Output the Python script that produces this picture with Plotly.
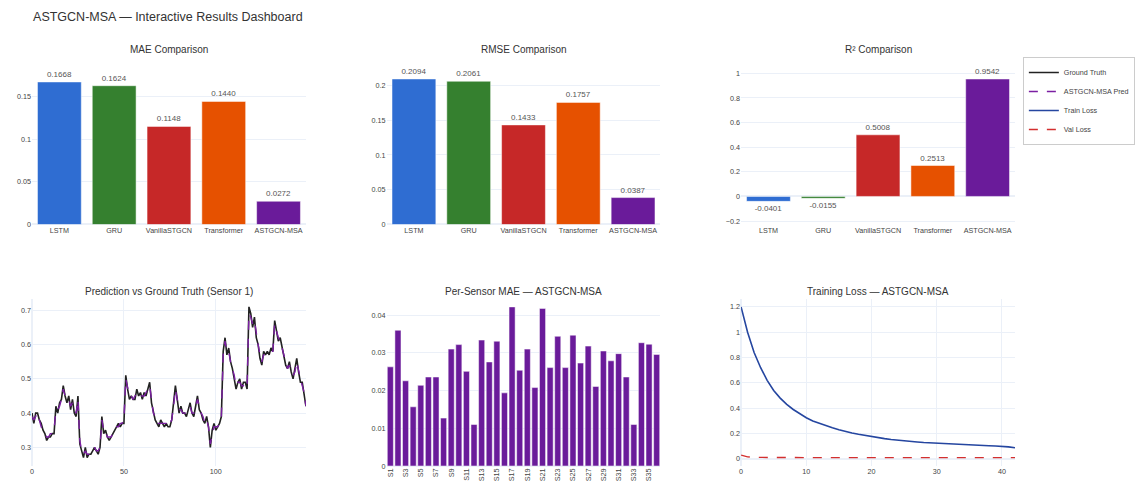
import plotly.graph_objects as go
from plotly.subplots import make_subplots

# ---- model comparison metrics ----
models = ["LSTM", "GRU", "VanillaSTGCN", "Transformer", "ASTGCN-MSA"]
mae = [0.1668, 0.1624, 0.1148, 0.1440, 0.0272]
rmse = [0.2094, 0.2061, 0.1433, 0.1757, 0.0387]
r2 = [-0.0401, -0.0155, 0.5008, 0.2513, 0.9542]
model_colors = ["#2f6dd2", "#35802f", "#c62828", "#e65100", "#6a1b9a"]

# ---- sensor 1 time series ----
ground_truth = [
    0.40, 0.37, 0.40, 0.40, 0.38, 0.37, 0.35, 0.34, 0.32, 0.33,
    0.33, 0.34, 0.34, 0.42, 0.40, 0.43, 0.44, 0.48, 0.45, 0.43,
    0.45, 0.41, 0.44, 0.40, 0.39, 0.45, 0.31, 0.29, 0.27, 0.30,
    0.27, 0.28, 0.28, 0.29, 0.30, 0.29, 0.28, 0.30, 0.39, 0.34,
    0.35, 0.33, 0.32, 0.33, 0.34, 0.35, 0.36, 0.37, 0.36, 0.37,
    0.37, 0.51, 0.47, 0.44, 0.45, 0.44, 0.44, 0.47, 0.45, 0.46,
    0.44, 0.46, 0.45, 0.47, 0.49, 0.43, 0.40, 0.38, 0.37, 0.36,
    0.38, 0.37, 0.36, 0.37, 0.36, 0.36, 0.38, 0.43, 0.48, 0.44,
    0.40, 0.42, 0.40, 0.40, 0.39, 0.41, 0.43, 0.40, 0.39, 0.42,
    0.45, 0.41, 0.40, 0.38, 0.37, 0.39, 0.36, 0.30, 0.35, 0.37,
    0.35, 0.36, 0.37, 0.39, 0.58, 0.62, 0.57, 0.59, 0.55, 0.53,
    0.50, 0.47, 0.49, 0.50, 0.47, 0.49, 0.49, 0.47, 0.71, 0.69,
    0.65, 0.68, 0.62, 0.60, 0.56, 0.54, 0.58, 0.57, 0.58, 0.57,
    0.59, 0.58, 0.67, 0.64, 0.61, 0.62, 0.59, 0.56, 0.54, 0.53,
    0.55, 0.52, 0.50, 0.53, 0.56, 0.52, 0.49, 0.49, 0.45, 0.42,
]
prediction = [
    0.39, 0.38, 0.39, 0.40, 0.38, 0.36, 0.35, 0.34, 0.33, 0.33,
    0.34, 0.34, 0.35, 0.41, 0.41, 0.42, 0.44, 0.47, 0.45, 0.44,
    0.44, 0.42, 0.43, 0.41, 0.40, 0.44, 0.32, 0.29, 0.28, 0.29,
    0.28, 0.28, 0.29, 0.29, 0.30, 0.29, 0.29, 0.30, 0.38, 0.35,
    0.35, 0.33, 0.33, 0.33, 0.34, 0.35, 0.36, 0.36, 0.37, 0.37,
    0.38, 0.50, 0.47, 0.45, 0.45, 0.44, 0.45, 0.46, 0.45, 0.45,
    0.45, 0.45, 0.46, 0.47, 0.48, 0.44, 0.40, 0.39, 0.37, 0.37,
    0.37, 0.37, 0.37, 0.37, 0.36, 0.37, 0.38, 0.42, 0.47, 0.44,
    0.41, 0.41, 0.40, 0.40, 0.40, 0.41, 0.42, 0.40, 0.40, 0.42,
    0.44, 0.42, 0.40, 0.39, 0.37, 0.38, 0.36, 0.31, 0.34, 0.36,
    0.36, 0.36, 0.37, 0.39, 0.57, 0.61, 0.58, 0.58, 0.55, 0.53,
    0.51, 0.48, 0.49, 0.49, 0.48, 0.48, 0.49, 0.48, 0.69, 0.68,
    0.66, 0.67, 0.63, 0.60, 0.57, 0.55, 0.57, 0.57, 0.57, 0.57,
    0.58, 0.58, 0.66, 0.64, 0.62, 0.61, 0.59, 0.57, 0.55, 0.53,
    0.54, 0.52, 0.51, 0.52, 0.55, 0.52, 0.50, 0.48, 0.46, 0.42,
]

# ---- per-sensor MAE of ASTGCN-MSA ----
sensors = ["S%d" % i for i in range(1, 37)]
sensor_mae = [
    0.0263, 0.0360, 0.0226, 0.0157, 0.0214, 0.0236, 0.0236, 0.0127, 0.0310,
    0.0322, 0.0251, 0.0110, 0.0334, 0.0276, 0.0331, 0.0194, 0.0422, 0.0254,
    0.0310, 0.0208, 0.0418, 0.0261, 0.0344, 0.0261, 0.0347, 0.0273, 0.0318,
    0.0211, 0.0305, 0.0279, 0.0298, 0.0236, 0.0110, 0.0327, 0.0323, 0.0296,
]

# ---- training history ----
train_loss = [
    1.20, 1.00, 0.84, 0.72, 0.62, 0.54, 0.48, 0.43, 0.39, 0.355,
    0.325, 0.300, 0.280, 0.260, 0.245, 0.230, 0.215, 0.205, 0.195, 0.185,
    0.175, 0.168, 0.160, 0.153, 0.147, 0.142, 0.137, 0.133, 0.129, 0.126,
    0.123, 0.120, 0.117, 0.114, 0.112, 0.110, 0.108, 0.106, 0.104, 0.102,
    0.100, 0.095, 0.088,
]
val_loss = [
    0.030, 0.016, 0.012, 0.011, 0.011, 0.010, 0.010, 0.010, 0.010, 0.010,
    0.010, 0.010, 0.010, 0.010, 0.010, 0.010, 0.010, 0.010, 0.010, 0.010,
    0.010, 0.010, 0.010, 0.010, 0.010, 0.010, 0.010, 0.010, 0.010, 0.010,
    0.010, 0.010, 0.010, 0.010, 0.010, 0.010, 0.010, 0.010, 0.010, 0.010,
    0.010, 0.010, 0.010,
]

FONT = "Arial, Liberation Sans, sans-serif"

fig = make_subplots(
    rows=2, cols=3,
    subplot_titles=[
        "MAE Comparison", "RMSE Comparison", "R² Comparison",
        "Prediction vs Ground Truth (Sensor 1)",
        "Per-Sensor MAE — ASTGCN-MSA", "Training Loss — ASTGCN-MSA",
    ],
    horizontal_spacing=0.082, vertical_spacing=0.181,
)

text_font = dict(size=8, color="#555", family=FONT)
for col, vals in zip((1, 2, 3), (mae, rmse, r2)):
    fig.add_trace(go.Bar(
        x=models, y=vals, marker_color=model_colors,
        text=["%.4f" % v for v in vals], textposition="outside",
        textfont=text_font, cliponaxis=False, showlegend=False,
    ), row=1, col=col)

steps = list(range(len(ground_truth)))
fig.add_trace(go.Scatter(
    x=steps, y=ground_truth, mode="lines", name="Ground Truth",
    line=dict(color="#222222", width=1.6),
), row=2, col=1)
fig.add_trace(go.Scatter(
    x=steps, y=prediction, mode="lines", name="ASTGCN-MSA Pred",
    line=dict(color="#7b1fa2", width=1.4, dash="dash"),
), row=2, col=1)

fig.add_trace(go.Bar(
    x=sensors, y=sensor_mae, marker_color="#6a1b9a", showlegend=False,
), row=2, col=2)

epochs = list(range(len(train_loss)))
fig.add_trace(go.Scatter(
    x=epochs, y=train_loss, mode="lines", name="Train Loss",
    line=dict(color="#2546a0", width=1.6),
), row=2, col=3)
fig.add_trace(go.Scatter(
    x=epochs, y=val_loss, mode="lines", name="Val Loss",
    line=dict(color="#d32f2f", width=1.4, dash="dash"),
), row=2, col=3)

fig.update_yaxes(range=[0, 0.196], row=1, col=1)
fig.update_yaxes(range=[0, 0.241], row=1, col=2)
fig.update_yaxes(range=[-0.228, 1.133], dtick=0.2, row=1, col=3)
fig.update_yaxes(dtick=0.2, row=2, col=3)
fig.update_xaxes(tickvals=sensors[::2], tickangle=-90, row=2, col=2)

fig.update_xaxes(tickfont=dict(size=7.2), automargin=False)
fig.update_yaxes(tickfont=dict(size=7.2), automargin=False)
for ann in fig.layout.annotations:
    ann.font = dict(size=10, color="#333", family=FONT)

fig.update_layout(
    template="plotly_white",
    width=1140, height=488,
    margin=dict(l=32, r=125, t=57, b=22, autoexpand=False),
    title=dict(text="ASTGCN-MSA — Interactive Results Dashboard",
               x=0.029, xref="container", y=0.975, yref="container",
               font=dict(size=12.5, color="#333", family=FONT)),
    font=dict(size=7.5, family=FONT, color="#444"),
    legend=dict(font=dict(size=7.2), bordercolor="#cccccc", borderwidth=1,
                x=1.008, y=1.0),
    bargap=0.2,
)

fig.write_html("out.html")
